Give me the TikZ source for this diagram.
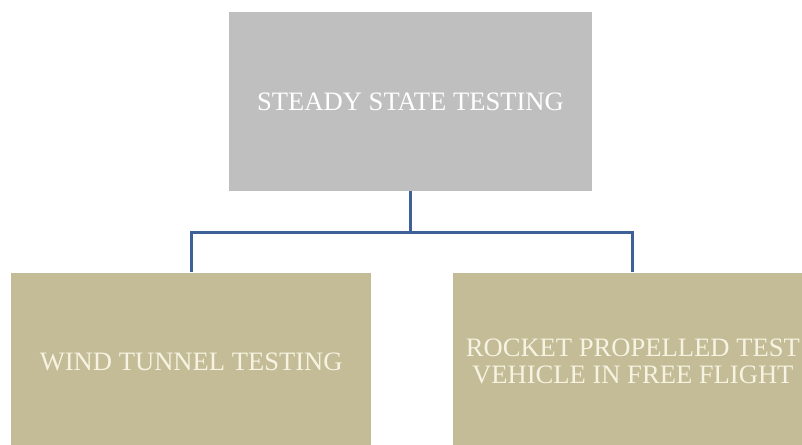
\documentclass[tikz,border=0pt]{standalone}
\usepackage{fontspec}
\setmainfont{Liberation Serif}
\usetikzlibrary{positioning}
\definecolor{gris}{HTML}{BFBFBF}
\definecolor{arena}{HTML}{C3BC96}
\definecolor{azul}{HTML}{3E6198}
\definecolor{crema}{HTML}{F7F3E3}

\begin{document}
\begin{tikzpicture}[every node/.style={font=\fontsize{13.3}{13.5}\selectfont, align=center},
  raiz/.style={fill=gris, text=white, minimum width=181.5pt, minimum height=89.5pt, inner sep=0pt},
  hoja/.style={fill=arena, text=crema, minimum width=180pt, minimum height=89pt, inner sep=0pt},
  enlace/.style={draw=azul, line width=1.5pt}]
\clip (0,0) rectangle (401pt,-222pt);
\node[raiz] (top) at (205.25pt,-50.75pt) {STEADY STATE TESTING};
\node[hoja, below left=40.5pt and -71.5pt of top] (izq) {WIND TUNNEL TESTING};
\node[hoja, below right=40.5pt and -70pt of top] (der) {ROCKET PROPELLED TEST\\VEHICLE IN FREE FLIGHT};
\draw[enlace] (top.south) -- ++(0,-20.5pt) -| (izq.north);
\draw[enlace] (top.south) -- ++(0,-20.5pt) -| (der.north);
\end{tikzpicture}
\end{document}
